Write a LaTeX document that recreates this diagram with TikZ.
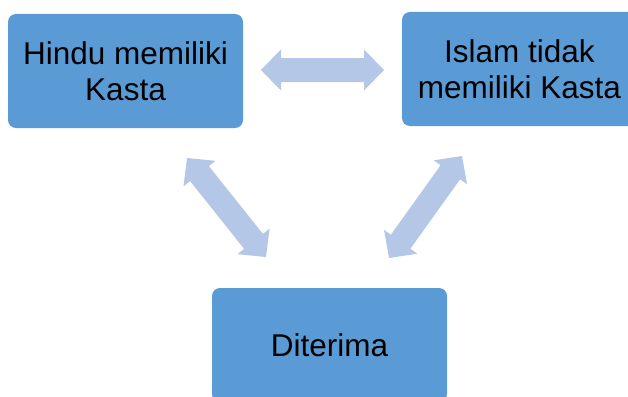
\documentclass[tikz,border=0pt]{standalone}
\usepackage{fontspec}
\setmainfont{Liberation Sans}
\usetikzlibrary{calc}
\definecolor{boxblue}{HTML}{5B9BD5}
\definecolor{arrowblue}{HTML}{B4C7E7}
\tikzset{
  box/.style={rounded corners=8pt, fill=boxblue, draw=none, minimum width=235pt, minimum height=114pt,
    inner sep=0pt, align=center, text=black, font=\fontsize{31.5}{36}\selectfont},
  dblarr/.style={fill=arrowblue, draw=none}
}
\newcommand{\mydblarrow}[2]{%
  \coordinate (h1) at ($(#1)!20pt!(#2)$);
  \coordinate (h2) at ($(#2)!20pt!(#1)$);
  \fill[dblarr] (#1) -- ($(h1)!20.5pt!90:(#2)$) -- ($(h1)!12pt!90:(#2)$)
    -- ($(h2)!12pt!-90:(#1)$) -- ($(h2)!20.5pt!-90:(#1)$) -- (#2)
    -- ($(h2)!20.5pt!90:(#1)$) -- ($(h2)!12pt!90:(#1)$)
    -- ($(h1)!12pt!-90:(#2)$) -- ($(h1)!20.5pt!-90:(#2)$) -- cycle;
}
\begin{document}
\begin{tikzpicture}[x=1pt,y=-1pt]
\useasboundingbox (0,0) rectangle (628,396);
\clip (0,0) rectangle (628,396);
\node[box] (hindu) at (125.5,71) {Hindu memiliki\\Kasta};
\node[box] (islam) at (519.5,69) {Islam tidak\\memiliki Kasta};
\node[box] (diterima) at (329.5,345) {Diterima};
\coordinate (a1) at (261,70);
\coordinate (a2) at (384,70);
\coordinate (b1) at (187,158);
\coordinate (b2) at (266,257);
\coordinate (c1) at (462,156);
\coordinate (c2) at (389,258);
\mydblarrow{a1}{a2}
\mydblarrow{b1}{b2}
\mydblarrow{c1}{c2}
\end{tikzpicture}
\end{document}
